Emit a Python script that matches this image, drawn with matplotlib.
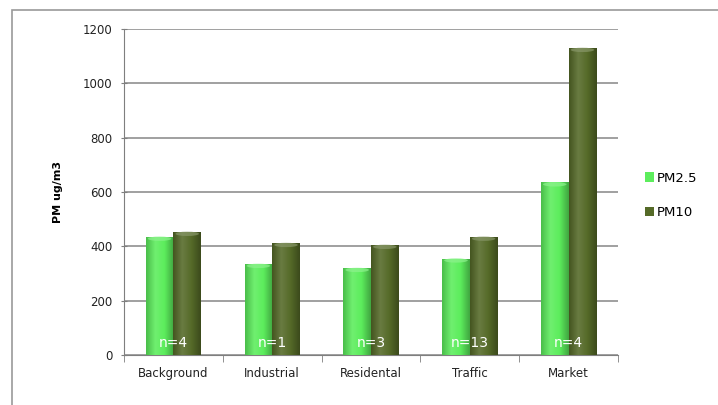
import numpy as np
import matplotlib.pyplot as plt
from matplotlib.colors import LinearSegmentedColormap, to_rgb
from matplotlib.patches import Rectangle, Ellipse

# PM concentrations per site type
sites = ["Background", "Industrial", "Residental", "Traffic", "Market"]
pm25 = [435, 335, 320, 355, 635]
pm10 = [453, 412, 405, 435, 1130]
n_samples = ["n=4", "n=1", "n=3", "n=13", "n=4"]

c_pm25 = "#5ced5c"
c_pm10 = "#556a28"

def shade(color, f):
    r, g, b = to_rgb(color)
    if f < 1:
        return (r*f, g*f, b*f)
    f = f - 1
    return (r + (1-r)*f, g + (1-g)*f, b + (1-b)*f)

def cyl_bars(ax, bars, color):
    # cylinder-like horizontal shading on each bar
    cmap = LinearSegmentedColormap.from_list(
        "cyl", [shade(color, 0.8), shade(color, 1.12), color, shade(color, 0.7)])
    grad = np.linspace(0, 1, 64).reshape(1, -1)
    for b in bars:
        x, w, h = b.get_x(), b.get_width(), b.get_height()
        im = ax.imshow(grad, cmap=cmap, aspect="auto", extent=[x, x + w, 0, h],
                       zorder=3, interpolation="bicubic")
        im.set_clip_path(b)
        cap = Ellipse((x + w/2, h - 7), w*0.85, 16, color=shade(color, 1.3),
                      alpha=0.7, zorder=4, lw=0)
        ax.add_patch(cap)

fig = plt.figure(figsize=(7.18, 4.05), dpi=100)
ax = fig.add_axes([0.1727, 0.1235, 0.688, 0.805])

x = np.arange(len(sites))
w = 0.28
b1 = ax.bar(x - w/2, pm25, w, color=c_pm25, zorder=2, label="PM2.5")
b2 = ax.bar(x + w/2, pm10, w, color=c_pm10, zorder=2, label="PM10")
cyl_bars(ax, b1, c_pm25)
cyl_bars(ax, b2, c_pm10)

for xi, t in zip(x, n_samples):
    ax.text(xi, 45, t, color="white", ha="center", va="center", fontsize=10,
            zorder=5)

ax.set_xlim(-0.5, len(sites) - 0.5)
ax.set_ylim(0, 1200)
ax.set_yticks(range(0, 1201, 200))
ax.set_xticks(x)
ax.set_xticklabels(sites, fontsize=8.5, color="#222222")
ax.set_xticks(np.arange(-0.5, len(sites)), minor=True)
ax.tick_params(axis="x", which="major", length=0, pad=9)
ax.tick_params(axis="x", which="minor", length=5, direction="out", color="#7f7f7f")
ax.tick_params(axis="y", length=5, direction="inout", labelsize=8.5, pad=6,
               color="#7f7f7f", labelcolor="#222222")
ax.yaxis.grid(True, color="#999999", lw=1.3, zorder=0)
ax.set_axisbelow(True)
for s in ["top", "right"]:
    ax.spines[s].set_visible(False)
ax.spines["left"].set_color("#7f7f7f")
ax.spines["bottom"].set_color("#7f7f7f")
ax.set_ylabel("PM ug/m3", fontsize=8, fontweight="bold", labelpad=14)

ax.legend(loc="center left", bbox_to_anchor=(1.03, 0.49), frameon=False,
          fontsize=9.5, handlelength=0.7, handleheight=0.7, handletextpad=0.2,
          labelspacing=1.6)

# chart area border
fig.patches.append(Rectangle((12/718, -0.1), 1.2, 1 - 10/405 + 0.1,
                             transform=fig.transFigure, fill=False,
                             edgecolor="#9a9a9a", lw=1.2))

fig.savefig("out.png", dpi=100, facecolor="white")
